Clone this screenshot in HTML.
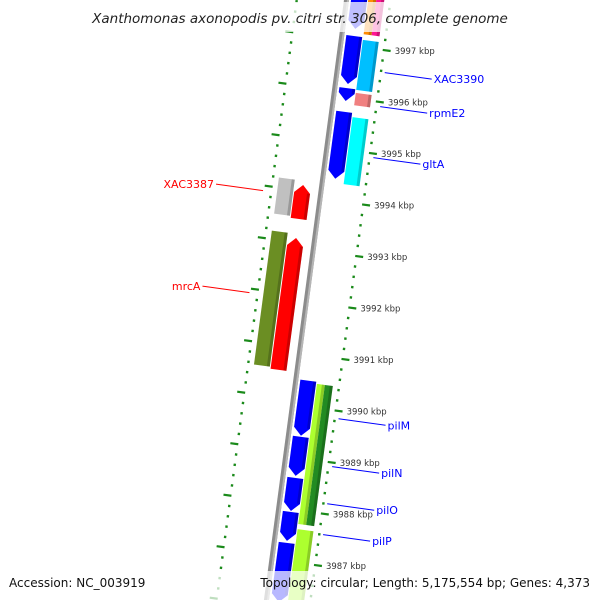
<!DOCTYPE html>
<html><head><meta charset="utf-8"><style>
html,body{margin:0;padding:0;background:#fff;overflow:hidden}
svg{display:block;font-family:"DejaVu Sans","Liberation Sans",sans-serif;overflow:hidden}
</style></head><body>
<svg id="c" width="600" height="600" viewBox="0 0 600 600">
<defs><clipPath id="clipAll"><rect x="0" y="0" width="600" height="600"/></clipPath></defs>
<g clip-path="url(#clipAll)">
<g id="rot" transform="translate(347,0) rotate(7.6)"></g>
<g id="over"></g>
</g>
</svg>
<script>
const NS="http://www.w3.org/2000/svg";
// data arrays (kbp)
const geneStarts=[3997.97,3997.19,3996.18,3995.72,3997.97,3997.97,3997.14,3996.11,3995.64,3994.30,3994.22,3993.27,3993.19,3990.50,3989.41,3988.61,3987.95,3987.35,3990.46,3990.46,3987.64];
const geneEnds=[3997.33,3996.26,3995.93,3994.42,3997.25,3997.25,3996.17,3995.87,3994.34,3993.60,3993.56,3990.67,3990.63,3989.43,3988.65,3987.97,3987.39,3986.20,3987.74,3987.74,3986.20];
const geneDirs=[-1,-1,-1,-1,0,0,0,0,0,0,1,0,1,-1,-1,-1,-1,-1,0,0,0];
const geneCols=["A","A","A","A","Bi","Bo","B","B","B","LO","LI","LO","LI","A","A","A","A","A","Bi","Bo","B"];
const geneColors=["#0000ff","#0000ff","#0000ff","#0000ff","#ff8c00","#ff1493","#00bfff","#f08080","#00ffff","#c0c0c0","#ff0000","#6b8e23","#ff0000","#0000ff","#0000ff","#0000ff","#0000ff","#0000ff","#adff2f","#228b22","#adff2f"];
const tickKbp=[3997,3996,3995,3994,3993,3992,3991,3990,3989,3988,3987];
const tickLabels=tickKbp.map(k=>k+" kbp");
const geneLabels=["XAC3390","rpmE2","gltA","pilM","pilN","pilO","pilP","XAC3387","mrcA"];
const labelKbp=[3996.57,3995.91,3994.92,3989.85,3988.92,3988.20,3987.60,3994.01,3992.03];
const labelSide=[1,1,1,1,1,1,1,-1,-1];

const cosA=Math.cos(7.6*Math.PI/180), sinA=Math.sin(7.6*Math.PI/180);
function yAct(p){return 50+(3997-p)*51.5;}
function Y(p){return (yAct(p)-43*sinA)/cosA;}
function toAct(lx,ly){return [347+lx*cosA-ly*sinA, lx*sinA+ly*cosA];}
const cols={A:[4,20],B:[21,37],Bi:[21,29],Bo:[29,37],LI:[-27,-11],LO:[-44,-28]};
const rot=document.getElementById('rot'), over=document.getElementById('over');
function mk(tag,attrs,parent){const e=document.createElementNS(NS,tag);for(const k in attrs)e.setAttribute(k,attrs[k]);parent.appendChild(e);return e;}

// backbone
let bb=mk('rect',{x:-3,y:-20,width:5,height:640,fill:'#8c8c8c'},rot);


mk('rect',{x:0,y:-20,width:2,height:640,fill:'#b5b5b5'},rot);

// dotted scale lines
function scaleLine(lx,phase,dir,name){
  const g=mk('g',{},rot);
  
  
  for(let i=-30;i<80;i++){
    const ly=(phase+i*10.3)/cosA;
    if(ly<-5||ly>620)continue;
    if(((i%5)+5)%5===0) mk('rect',{x:dir>0?lx-1:lx-7,y:ly-1,width:8,height:2.2,fill:'#1a8a1a'},g);
    else mk('rect',{x:lx-1,y:ly-1,width:2.4,height:2.4,fill:'#1a8a1a'},g);
  }
}
scaleLine(43,50-43*sinA,1,'right-scale-line');
scaleLine(-50,32+50*sinA,-1,'left-scale-line');

// genes
for(let i=0;i<geneStarts.length;i++){
  const c=cols[geneCols[i]];
  const y1=Y(geneStarts[i]), y2=Y(geneEnds[i]);
  const x1=c[0],x2=c[1],t=8,m=(x1+x2)/2;
  let d, ya=y1, yb=y2;
  if(geneDirs[i]<0){ d=`M${x1},${y1}L${x2},${y1}L${x2},${y2-t}L${m},${y2}L${x1},${y2-t}Z`; yb=y2-t; }
  else if(geneDirs[i]>0){ d=`M${m},${y1}L${x2},${y1+t}L${x2},${y2}L${x1},${y2}L${x1},${y1+t}Z`; ya=y1+t; }
  else d=`M${x1},${y1}L${x2},${y1}L${x2},${y2}L${x1},${y2}Z`;
  const p=mk('path',{d:d,fill:geneColors[i]},rot);
  
  
  mk('rect',{x:x2-3,y:ya,width:3,height:Math.max(0,yb-ya),fill:'#000',opacity:0.2},rot);
}

// tick labels
for(let i=0;i<tickKbp.length;i++){
  const [ax,ay]=toAct(43,Y(tickKbp[i]));
  const t=mk('text',{x:ax+11,y:ay+4,'font-size':8.5,fill:'#333'},over);
  t.textContent=tickLabels[i];
  
  
}
// gene labels
for(let i=0;i<geneLabels.length;i++){
  const side=labelSide[i];
  const ly=Y(labelKbp[i]);
  const col=side>0?'#0000ff':'#ff0000';
  const [sx,sy]=toAct(side>0?47:-58,ly);
  const ex=sx+side*47, ey=sy+6.5*side;
  const ln=mk('line',{x1:sx,y1:sy,x2:ex,y2:ey,stroke:col,'stroke-width':1},over);
  
  
  const t=mk('text',{x:ex+side*2,y:ey+4,'font-size':11,fill:col,'text-anchor':side>0?'start':'end'},over);
  t.textContent=geneLabels[i];
  
  
}
// title & footer
mk('rect',{x:80,y:2,width:440,height:30,fill:'#fff',opacity:0.75},over);
mk('rect',{x:0,y:571,width:600,height:29,fill:'#fff',opacity:0.72},over);
let tt=mk('text',{x:300,y:23,'font-size':13.5,'font-style':'italic','text-anchor':'middle',fill:'#222'},over);
tt.textContent='Xanthomonas axonopodis pv. citri str. 306, complete genome';


let a=mk('text',{x:9,y:587,'font-size':12,fill:'#111'},over);
a.textContent='Accession: NC_003919';


let b=mk('text',{x:590,y:587,'font-size':12,fill:'#111','text-anchor':'end'},over);
b.textContent='Topology: circular; Length: 5,175,554 bp; Genes: 4,373';


</script>
</body></html>
